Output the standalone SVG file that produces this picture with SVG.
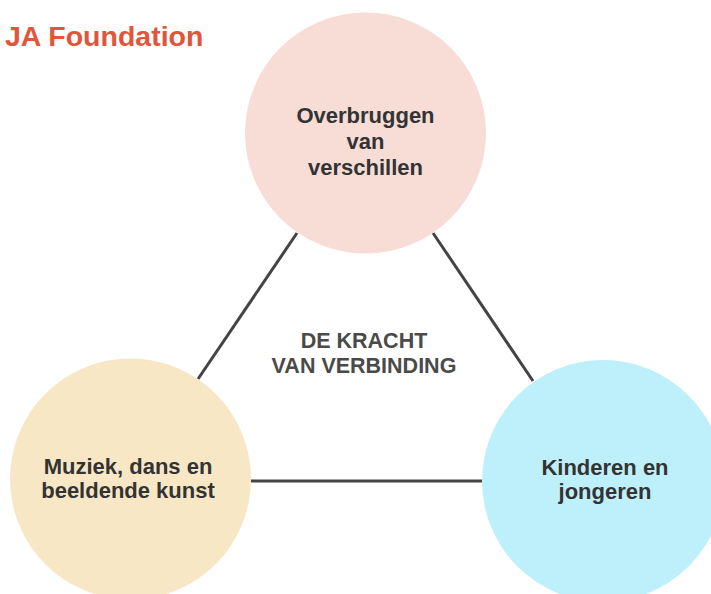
<svg xmlns="http://www.w3.org/2000/svg" width="711" height="594" viewBox="0 0 711 594">
<style>
.lbl{font-family:"Liberation Sans",Arial,sans-serif;font-weight:bold;font-size:22px;fill:#333;text-anchor:middle}
.mid{font-family:"Liberation Sans",Arial,sans-serif;font-weight:bold;font-size:21.5px;fill:#4a4a4a;text-anchor:middle}
.title{font-family:"Liberation Sans",Arial,sans-serif;font-weight:bold;font-size:28.5px;fill:#E2553A}
.conn{stroke:#444;stroke-width:3;fill:none}
</style>
<rect width="711" height="594" fill="#fff"/>
<text class="title" x="5" y="46">JA Foundation</text>
<g id="connectors">
<line class="conn" x1="297" y1="233" x2="198" y2="379"/>
<line class="conn" x1="433" y1="233" x2="533" y2="381"/>
<line class="conn" x1="251" y1="481" x2="482" y2="481"/>
</g>
<g id="node-top">
<circle cx="365.5" cy="133" r="120.5" fill="#F8DCD6"/>
<text class="lbl" x="365.5" y="123">Overbruggen</text>
<text class="lbl" x="365.5" y="149">van</text>
<text class="lbl" x="365.5" y="175">verschillen</text>
</g>
<g id="node-left">
<circle cx="130.5" cy="479" r="120.5" fill="#F8E7C5"/>
<text class="lbl" x="128" y="474">Muziek, dans en</text>
<text class="lbl" x="128" y="498">beeldende kunst</text>
</g>
<g id="node-right">
<circle cx="603" cy="481" r="121" fill="#BEF0FB"/>
<text class="lbl" x="605" y="475">Kinderen en</text>
<text class="lbl" x="605" y="499">jongeren</text>
</g>
<g id="center-label">
<text class="mid" x="364" y="348">DE KRACHT</text>
<text class="mid" x="364" y="373">VAN VERBINDING</text>
</g>
</svg>
